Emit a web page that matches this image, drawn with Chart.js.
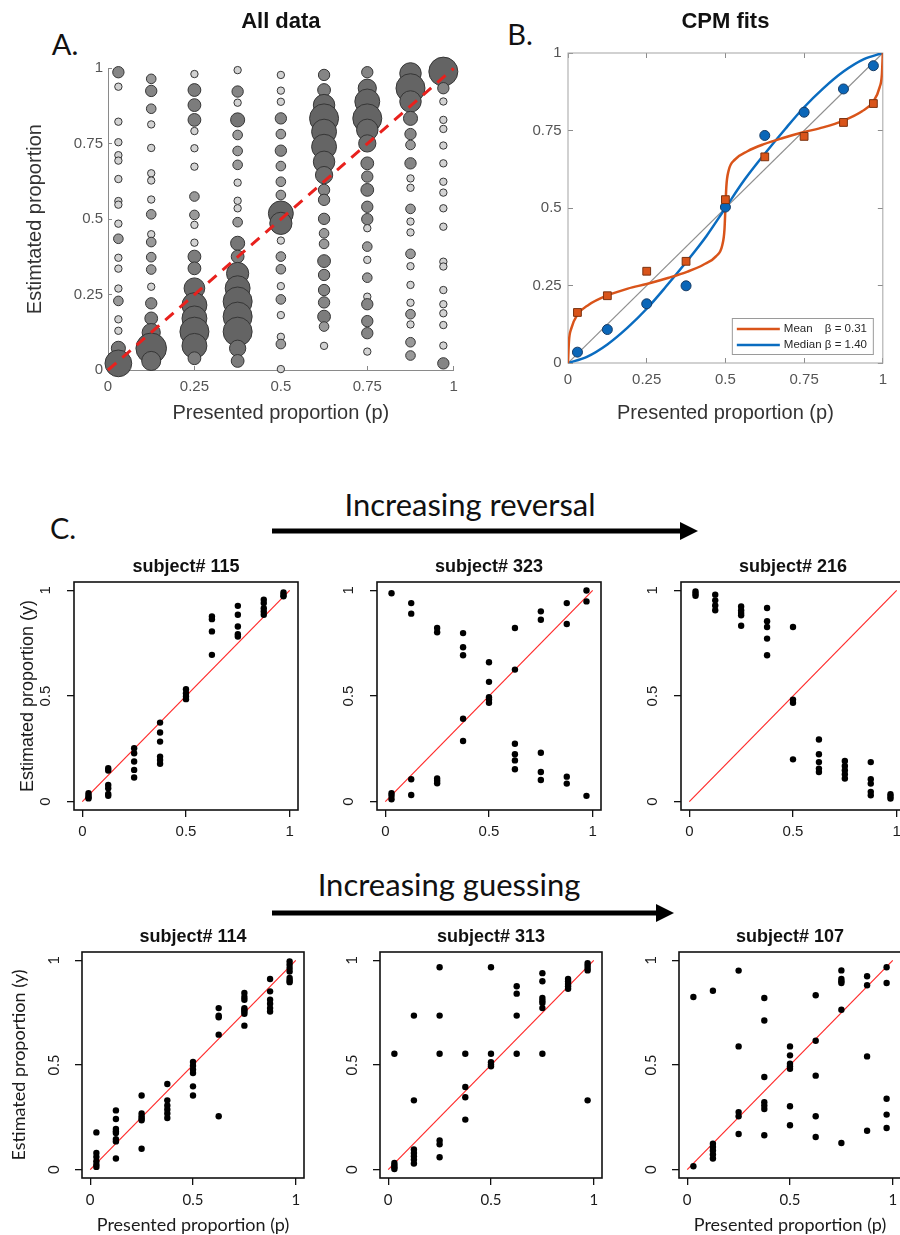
<!DOCTYPE html>
<html>
<head>
<meta charset="utf-8">
<script src="https://cdn.jsdelivr.net/npm/chart.js@4.4.1/dist/chart.umd.min.js"></script>
<style>
  html, body { margin: 0; padding: 0; background: #fff; overflow: hidden; }
  body { width: 900px; height: 1235px; position: relative; font-family: Lato, "Open Sans", sans-serif; }
  canvas { position: absolute; }
  .lbl { position: absolute; white-space: nowrap; color: #111; transform: translate(-50%, -50%); line-height: 1; }
  svg { position: absolute; left: 0; top: 0; }
</style>
</head>
<body>
<div class="lbl" style="left:65px;top:43px;font-size:29px">A.</div>
<div class="lbl" style="left:520px;top:33px;font-size:29px">B.</div>
<div class="lbl" style="left:63px;top:527px;font-size:29px">C.</div>
<div class="lbl" style="left:470px;top:504px;font-size:31px">Increasing reversal</div>
<div class="lbl" style="left:449px;top:884px;font-size:31px">Increasing guessing</div>
<svg width="900" height="1235">
  <rect x="272" y="528.5" width="412" height="5" fill="#000"/>
  <polygon points="680,522 698,531 680,540" fill="#000"/>
  <rect x="272" y="910.5" width="388" height="5" fill="#000"/>
  <polygon points="656,904 674,913 656,922" fill="#000"/>
</svg>

<canvas id="panelA" width="470" height="430" style="left:0;top:0"></canvas>
<canvas id="panelB" width="430" height="430" style="left:470px;top:0"></canvas>
<canvas id="s115" width="288" height="291" style="left:14px;top:554px"></canvas>
<canvas id="s323" width="268" height="291" style="left:337px;top:554px"></canvas>
<canvas id="s216" width="268" height="291" style="left:641px;top:554px"></canvas>
<canvas id="s114" width="302" height="314" style="left:6px;top:924px"></canvas>
<canvas id="s313" width="266" height="314" style="left:340px;top:924px"></canvas>
<canvas id="s107" width="266" height="314" style="left:639px;top:924px"></canvas>

<script>
// presented proportions (x) shared by every panel
const presented = [0.03, 0.125, 0.25, 0.375, 0.5, 0.625, 0.75, 0.875, 0.97];
const ticksAB = [0, 0.25, 0.5, 0.75, 1];
const ticksC = [0, 0.5, 1];
const identity = [0, 1];

// Panel A: for each presented proportion, [estimated proportion, number of responses]
const allData = [
  [[0.987,3],[0.939,1],[0.823,1],[0.755,1],[0.712,1],[0.694,1],[0.633,1],[0.56,1],[0.548,1],[0.485,1],[0.435,2],[0.372,1],[0.336,1],[0.27,1],[0.229,2],[0.168,1],[0.13,1],[0.072,5],[0.022,21]],
  [[0.965,2],[0.925,3],[0.866,2],[0.814,1],[0.736,1],[0.652,1],[0.628,1],[0.565,1],[0.516,2],[0.45,1],[0.424,2],[0.374,2],[0.333,2],[0.276,1],[0.221,3],[0.171,4],[0.124,9],[0.072,28],[0.03,10]],
  [[0.981,1],[0.928,4],[0.878,4],[0.829,4],[0.792,1],[0.735,1],[0.674,1],[0.575,2],[0.514,2],[0.481,1],[0.422,1],[0.376,4],[0.337,4],[0.271,12],[0.215,18],[0.171,18],[0.127,25],[0.08,18],[0.039,4]],
  [[0.994,1],[0.923,3],[0.886,1],[0.829,5],[0.779,2],[0.726,2],[0.68,2],[0.621,1],[0.561,1],[0.536,1],[0.49,2],[0.42,5],[0.376,4],[0.32,14],[0.271,18],[0.227,25],[0.177,25],[0.127,25],[0.072,7],[0.03,4]],
  [[0.978,1],[0.926,1],[0.889,1],[0.834,3],[0.782,2],[0.727,3],[0.676,2],[0.624,2],[0.58,2],[0.519,18],[0.486,14],[0.429,1],[0.376,2],[0.334,2],[0.278,1],[0.234,2],[0.182,1],[0.11,1],[0.086,2],[0.003,1]],
  [[0.978,3],[0.928,4],[0.878,13],[0.834,25],[0.79,18],[0.74,18],[0.69,13],[0.646,8],[0.597,3],[0.564,3],[0.501,3],[0.453,2],[0.418,2],[0.361,4],[0.315,3],[0.265,3],[0.224,3],[0.177,4],[0.144,2],[0.08,1]],
  [[0.987,3],[0.934,9],[0.89,18],[0.834,25],[0.796,13],[0.751,8],[0.685,4],[0.641,3],[0.597,4],[0.541,3],[0.5,3],[0.47,1],[0.409,2],[0.365,1],[0.306,2],[0.243,1],[0.218,3],[0.162,3],[0.122,3],[0.061,1]],
  [[0.983,13],[0.934,25],[0.89,13],[0.834,5],[0.782,3],[0.746,2],[0.685,3],[0.635,1],[0.604,1],[0.534,2],[0.492,1],[0.456,1],[0.385,2],[0.344,1],[0.282,1],[0.223,1],[0.185,2],[0.151,1],[0.092,2],[0.048,2]],
  [[0.989,25],[0.934,3],[0.89,1],[0.829,1],[0.799,1],[0.744,1],[0.685,1],[0.624,1],[0.588,1],[0.536,1],[0.475,1],[0.359,1],[0.343,1],[0.265,1],[0.218,1],[0.188,1],[0.149,1],[0.081,1],[0.022,3]]
];

// Panel B: group estimates and fitted CPM curves
const meanEst = [0.163, 0.217, 0.296, 0.328, 0.527, 0.665, 0.731, 0.776, 0.837];
const medianEst = [0.035, 0.108, 0.191, 0.249, 0.503, 0.734, 0.809, 0.884, 0.959];
const meanFitX = [0, 0.003, 0.01, 0.03, 0.066, 0.125, 0.19, 0.25, 0.32, 0.38, 0.43, 0.47, 0.49, 0.497, 0.5, 0.503, 0.51, 0.53, 0.57, 0.62, 0.68, 0.75, 0.81, 0.875, 0.934, 0.97, 0.99, 0.997, 1];
const meanFitY = [0, 0.07, 0.11, 0.156, 0.188, 0.218, 0.24, 0.255, 0.275, 0.295, 0.317, 0.344, 0.38, 0.43, 0.5, 0.57, 0.62, 0.656, 0.683, 0.705, 0.725, 0.745, 0.76, 0.782, 0.812, 0.844, 0.89, 0.93, 1];
const medianFitX = [0, 0.06, 0.125, 0.19, 0.25, 0.31, 0.375, 0.44, 0.5, 0.56, 0.625, 0.69, 0.75, 0.81, 0.875, 0.94, 1];
const medianFitY = [0, 0.02, 0.06, 0.115, 0.175, 0.245, 0.325, 0.41, 0.5, 0.59, 0.675, 0.755, 0.825, 0.885, 0.94, 0.98, 1];
const fitNames = ['Mean', 'Median'];
const fitBetas = ['\u03b2 = 0.31', '\u03b2 = 1.40'];

// Panel C: individual subjects, estimates listed per presented proportion
const s115 = [
  [0.04, 0.03, 0.02, 0.015],
  [0.158, 0.147, 0.079, 0.063, 0.036, 0.027],
  [0.253, 0.229, 0.19, 0.15, 0.114],
  [0.374, 0.327, 0.284, 0.213, 0.197, 0.179],
  [0.532, 0.513, 0.498, 0.485],
  [0.877, 0.864, 0.806, 0.695],
  [0.927, 0.885, 0.829, 0.793, 0.782],
  [0.956, 0.94, 0.916, 0.9, 0.885],
  [0.99, 0.979, 0.972]
];
const s323 = [
  [0.987, 0.039, 0.027, 0.011],
  [0.94, 0.89, 0.106, 0.031],
  [0.822, 0.802, 0.109, 0.098, 0.087],
  [0.798, 0.731, 0.693, 0.392, 0.287],
  [0.66, 0.567, 0.494, 0.483, 0.468],
  [0.822, 0.625, 0.274, 0.224, 0.195, 0.153],
  [0.901, 0.861, 0.231, 0.14, 0.102],
  [0.94, 0.841, 0.118, 0.085],
  [1.0, 0.948, 0.027]
];
const s216 = [
  [0.995, 0.984, 0.975],
  [0.98, 0.953, 0.929, 0.906],
  [0.924, 0.906, 0.893, 0.882, 0.833],
  [0.917, 0.854, 0.827, 0.772, 0.693],
  [0.827, 0.483, 0.468, 0.2],
  [0.294, 0.224, 0.187, 0.156, 0.14],
  [0.192, 0.169, 0.148, 0.129, 0.109],
  [0.187, 0.106, 0.085, 0.046, 0.03],
  [0.035, 0.024, 0.014]
];
const s114 = [
  [0.178, 0.08, 0.061, 0.04, 0.024, 0.013],
  [0.283, 0.242, 0.194, 0.183, 0.175, 0.146, 0.135, 0.053],
  [0.354, 0.268, 0.255, 0.244, 0.236, 0.1],
  [0.409, 0.331, 0.307, 0.287, 0.268, 0.247],
  [0.514, 0.497, 0.478, 0.462, 0.398, 0.354],
  [0.772, 0.736, 0.728, 0.645, 0.255],
  [0.844, 0.825, 0.812, 0.772, 0.764, 0.756, 0.745, 0.688],
  [0.911, 0.852, 0.812, 0.793, 0.772, 0.756],
  [0.995, 0.979, 0.963, 0.947, 0.916, 0.904, 0.896]
];
const s313 = [
  [0.554, 0.032, 0.021, 0.011, 0.003],
  [0.736, 0.331, 0.096, 0.08, 0.064, 0.048, 0.029],
  [0.967, 0.736, 0.554, 0.139, 0.121, 0.059],
  [0.554, 0.395, 0.346, 0.239],
  [0.967, 0.554, 0.513, 0.502, 0.494],
  [0.876, 0.841, 0.736, 0.554],
  [0.939, 0.9, 0.82, 0.807, 0.796, 0.772, 0.554],
  [0.911, 0.9, 0.887, 0.876, 0.864],
  [0.987, 0.976, 0.963, 0.952, 0.331]
];
const s107 = [
  [0.825, 0.016],
  [0.855, 0.124, 0.108, 0.092, 0.072, 0.053],
  [0.951, 0.589, 0.275, 0.255, 0.17],
  [0.82, 0.713, 0.443, 0.322, 0.306, 0.29, 0.164],
  [0.589, 0.546, 0.506, 0.494, 0.482, 0.303, 0.212],
  [0.833, 0.616, 0.449, 0.255, 0.156],
  [0.952, 0.911, 0.9, 0.892, 0.764, 0.127],
  [0.924, 0.881, 0.541, 0.186],
  [0.967, 0.892, 0.339, 0.263, 0.199]
];

Chart.defaults.font.family = '"Liberation Sans", Arial, sans-serif';
Chart.defaults.animation = false;

var ARIAL = '"Liberation Sans", Arial, sans-serif';
var GILL = 'Lato, "Open Sans", sans-serif';

function setTicks(vals) {
  return function (scale) { scale.ticks = vals.map(function (v) { return { value: v }; }); };
}
function fixWidth(w) { return function (scale) { scale.width = w; }; }
function fixHeight(h) { return function (scale) { scale.height = h; }; }
function asLabel(v) { return String(v); }

// box round the plot area
var framePlugin = {
  id: 'frame',
  beforeDatasetsDraw: function (chart, args, opts) {
    if (!opts.color) return;
    var a = chart.chartArea, ctx = chart.ctx;
    ctx.save();
    ctx.strokeStyle = opts.color;
    ctx.lineWidth = opts.width;
    ctx.strokeRect(a.left, a.top, a.right - a.left, a.bottom - a.top);
    ctx.restore();
  }
};

// legend box in the lower right corner of panel B
var fitLegendPlugin = {
  id: 'fitLegend',
  afterDatasetsDraw: function (chart, args, opts) {
    var ctx = chart.ctx, a = chart.chartArea;
    var items = chart.data.datasets.filter(function (d) { return d.fitIndex !== undefined; });
    var x = a.right - opts.right - opts.width, y = a.bottom - opts.bottom - opts.height;
    ctx.save();
    ctx.fillStyle = '#fff';
    ctx.fillRect(x, y, opts.width, opts.height);
    ctx.strokeStyle = '#9a9a9a';
    ctx.lineWidth = 1;
    ctx.strokeRect(x + 0.5, y + 0.5, opts.width, opts.height);
    ctx.font = '11.5px ' + ARIAL;
    ctx.textBaseline = 'middle';
    items.forEach(function (d, i) {
      var cy = y + 11 + i * 16;
      ctx.strokeStyle = d.borderColor;
      ctx.lineWidth = 2.5;
      ctx.beginPath();
      ctx.moveTo(x + 5, cy);
      ctx.lineTo(x + 48, cy);
      ctx.stroke();
      ctx.fillStyle = '#262626';
      ctx.fillText(d.label, x + 52, cy);
      ctx.fillText(opts.betas[d.fitIndex], x + 93, cy);
    });
    ctx.restore();
  }
};

// Panel A
(function renderAllData() {
  var points = [];
  allData.forEach(function (col, i) {
    col.forEach(function (p) { points.push({ x: presented[i], y: p[0], n: p[1] }); });
  });
  new Chart(document.getElementById('panelA'), {
    type: 'scatter',
    data: {
      datasets: [
        {
          type: 'line',
          data: identity.map(function (v) { return { x: v, y: v }; }),
          borderColor: '#e8211d',
          borderWidth: 3,
          borderDash: [11, 8],
          pointRadius: 0,
          order: 0,
          clip: false
        },
        {
          data: points,
          pointRadius: function (c) { return 1 + 2.7 * Math.sqrt(c.raw.n); },
          backgroundColor: function (c) {
            var g = Math.round(95 + 115 / c.raw.n);
            return 'rgb(' + g + ',' + g + ',' + g + ')';
          },
          borderColor: '#363636',
          borderWidth: 1,
          order: 1,
          clip: false
        }
      ]
    },
    options: {
      responsive: false,
      events: [],
      layout: { padding: { left: 0, right: 12, top: 0, bottom: 0 } },
      plugins: {
        legend: { display: false },
        tooltip: { enabled: false },
        title: {
          display: true, text: 'All data', fullSize: false, color: '#111',
          font: { size: 22, weight: 'bold', family: ARIAL },
          padding: { top: 8.8, bottom: 33.1 }
        }
      },
      scales: {
        x: {
          type: 'linear', min: 0, max: 1,
          afterBuildTicks: setTicks(ticksAB), afterFit: fixHeight(60),
          grid: { drawOnChartArea: false, tickLength: -4, color: '#888' },
          border: { display: true, color: '#8a8a8a' },
          ticks: { padding: 12, color: '#555', font: { size: 15 }, callback: asLabel, maxRotation: 0 },
          title: { display: true, text: 'Presented proportion (p)', color: '#333', font: { size: 20 }, padding: { top: 0, bottom: 5 } }
        },
        y: {
          type: 'linear', min: 0, max: 1,
          afterBuildTicks: setTicks(ticksAB), afterFit: fixWidth(108),
          grid: { drawOnChartArea: false, tickLength: -4, color: '#888' },
          border: { display: true, color: '#8a8a8a' },
          ticks: { padding: 9, color: '#555', font: { size: 15 }, callback: asLabel },
          title: { display: true, text: 'Estimtated proportion', color: '#333', font: { size: 20 }, padding: { top: 23, bottom: 0 } }
        }
      }
    }
  });
})();

// Panel B
(function renderFits() {
  function zip(xs, ys) { return xs.map(function (x, i) { return { x: x, y: ys[i] }; }); }
  var hidden = function (pos, size) {
    return {
      type: 'linear', position: pos, min: 0, max: 1,
      afterBuildTicks: setTicks(ticksAB),
      afterFit: pos === 'top' ? fixHeight(size) : fixWidth(size),
      grid: { drawOnChartArea: false, tickLength: -5, color: '#8c8c8c' },
      border: { display: false },
      ticks: { display: false }
    };
  };
  var xTop = hidden('top', 0), yRight = hidden('right', 0);
  new Chart(document.getElementById('panelB'), {
    type: 'scatter',
    data: {
      datasets: [
        { data: zip(presented, meanEst), pointStyle: 'rect', pointRadius: 5.5, backgroundColor: '#d9541a', borderColor: '#7a3210', borderWidth: 1, order: 0, clip: false },
        { data: zip(presented, medianEst), pointStyle: 'circle', pointRadius: 5, backgroundColor: '#0a66b8', borderColor: '#163c66', borderWidth: 1, order: 0, clip: false },
        { type: 'line', label: fitNames[0], fitIndex: 0, data: zip(meanFitX, meanFitY), borderColor: '#d9541a', borderWidth: 2.5, pointRadius: 0, cubicInterpolationMode: 'monotone', order: 1 },
        { type: 'line', label: fitNames[1], fitIndex: 1, data: zip(medianFitX, medianFitY), borderColor: '#0a6cc0', borderWidth: 2.5, pointRadius: 0, cubicInterpolationMode: 'monotone', order: 1 },
        { type: 'line', data: identity.map(function (v) { return { x: v, y: v }; }), borderColor: '#8f8f8f', borderWidth: 1.2, pointRadius: 0, order: 2 }
      ]
    },
    plugins: [framePlugin, fitLegendPlugin],
    options: {
      responsive: false,
      events: [],
      layout: { padding: { left: 0, right: 2, top: 0, bottom: 0 } },
      plugins: {
        legend: { display: false },
        tooltip: { enabled: false },
        frame: { color: '#a3a3a3', width: 1 },
        fitLegend: { width: 141, height: 36, right: 10, bottom: 9, betas: fitBetas },
        title: {
          display: true, text: 'CPM fits', fullSize: false, color: '#111',
          font: { size: 22, weight: 'bold', family: ARIAL },
          padding: { top: 8.8, bottom: 17.8 }
        }
      },
      scales: {
        x: {
          type: 'linear', min: 0, max: 1,
          afterBuildTicks: setTicks(ticksAB), afterFit: fixHeight(67),
          grid: { drawOnChartArea: false, tickLength: -5, color: '#8c8c8c' },
          border: { display: false },
          ticks: { padding: 13, color: '#555', font: { size: 15 }, callback: asLabel, maxRotation: 0 },
          title: { display: true, text: 'Presented proportion (p)', color: '#333', font: { size: 20 }, padding: { top: 0, bottom: 5 } }
        },
        y: {
          type: 'linear', min: 0, max: 1,
          afterBuildTicks: setTicks(ticksAB), afterFit: fixWidth(98),
          grid: { drawOnChartArea: false, tickLength: -5, color: '#8c8c8c' },
          border: { display: false },
          ticks: { padding: 11.3, color: '#555', font: { size: 15 }, callback: asLabel }
        },
        x2: xTop,
        y2: yRight
      }
    }
  });
})();

// Panel C
function renderSubject(id, title, values, o) {
  var pts = [];
  values.forEach(function (col, i) {
    col.forEach(function (v) { pts.push({ x: presented[i], y: v }); });
  });
  var tickFont = { size: 15, family: o.font };
  new Chart(document.getElementById(id), {
    type: 'scatter',
    data: {
      datasets: [
        { data: pts, pointRadius: 3.2, backgroundColor: '#000', borderWidth: 0, order: 0, clip: false },
        { type: 'line', data: identity.map(function (v) { return { x: v, y: v }; }), borderColor: '#ff2b2b', borderWidth: 1.2, pointRadius: 0, order: 1 }
      ]
    },
    plugins: [framePlugin],
    options: {
      responsive: false,
      events: [],
      layout: { padding: 0 },
      plugins: {
        legend: { display: false },
        tooltip: { enabled: false },
        frame: { color: '#111', width: 1.6 },
        title: {
          display: true, text: 'subject# ' + title, fullSize: false, color: '#111',
          font: { size: 18, weight: 'bold', family: ARIAL },
          padding: { top: 2.2, bottom: 4.2 }
        }
      },
      scales: {
        x: {
          type: 'linear', min: -0.04, max: 1.04,
          afterBuildTicks: setTicks(ticksC), afterFit: fixHeight(o.xH),
          grid: { drawOnChartArea: false, tickLength: 7, color: '#111', lineWidth: 1.3 },
          border: { display: false },
          ticks: { padding: 5.7, color: '#1b1b1b', font: tickFont, callback: asLabel, maxRotation: 0 },
          title: { display: !!o.xTitle, text: 'Presented proportion (p)', color: '#1b1b1b', font: { size: 18, family: GILL }, padding: { top: 0, bottom: 2.2 } }
        },
        y: {
          type: 'linear', min: -0.04, max: 1.04,
          afterBuildTicks: setTicks(ticksC), afterFit: fixWidth(o.yW),
          grid: { drawOnChartArea: false, tickLength: 7, color: '#111', lineWidth: 1.3 },
          border: { display: false },
          ticks: { padding: 10.6, color: '#1b1b1b', font: tickFont, callback: asLabel, minRotation: 90, maxRotation: 90, crossAlign: 'center' },
          title: { display: !!o.yTitle, text: 'Estimated proportion (y)', color: '#1b1b1b', font: { size: 18, family: o.yTitleFont || ARIAL }, padding: { top: o.yTitlePad || 0, bottom: 0 } }
        }
      }
    }
  });
}

renderSubject('s115', '115', s115, { yW: 60, xH: 35, font: ARIAL, yTitle: true, yTitlePad: 3.2 });
renderSubject('s323', '323', s323, { yW: 40, xH: 35, font: ARIAL });
renderSubject('s216', '216', s216, { yW: 40, xH: 35, font: ARIAL });
renderSubject('s114', '114', s114, { yW: 76, xH: 60, font: GILL, yTitle: true, yTitleFont: GILL, yTitlePad: 2.2, xTitle: true });
renderSubject('s313', '313', s313, { yW: 40, xH: 60, font: GILL });
renderSubject('s107', '107', s107, { yW: 40, xH: 60, font: GILL, xTitle: true });
</script>
</body>
</html>
